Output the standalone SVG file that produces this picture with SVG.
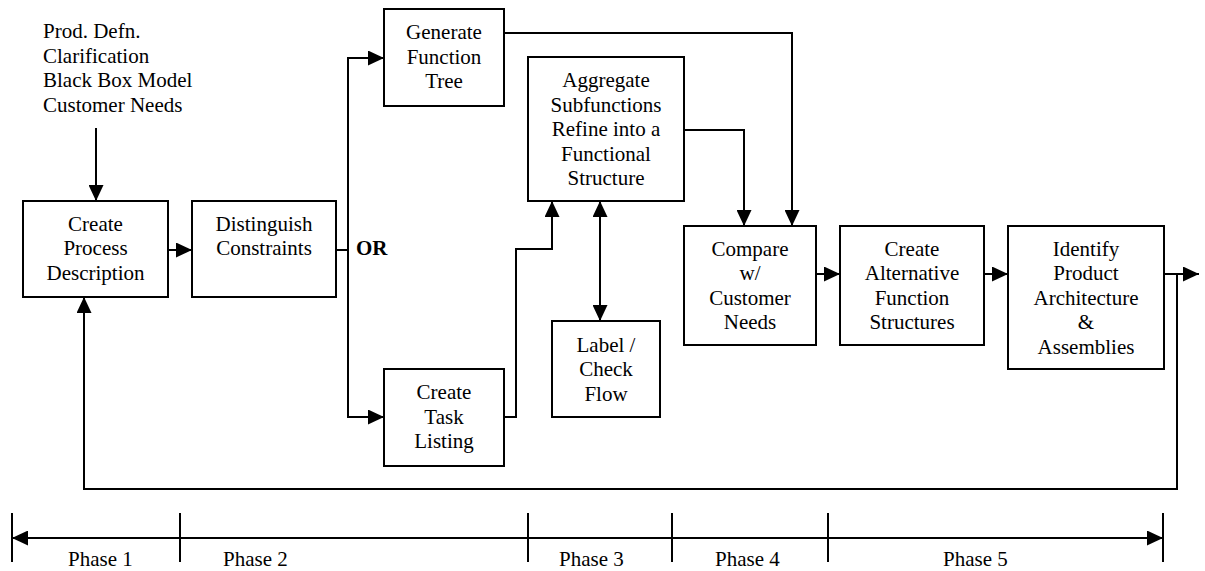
<svg xmlns="http://www.w3.org/2000/svg" width="1205" height="571" viewBox="0 0 1205 571">
  <style>
    text { font-family: "Liberation Serif", "Times New Roman", Times, "Nimbus Roman", "Nimbus Roman No9 L", FreeSerif, "Noto Serif", Tinos, "DejaVu Serif", Georgia, serif; font-size: 21px; fill: #000; }
    .c { text-anchor: middle; }
    .b { font-weight: bold; }
    .box { fill: #fff; stroke: #000; stroke-width: 2; }
    .ln { fill: none; stroke: #000; stroke-width: 2; }
    .arr { marker-end: url(#ah); }
    .arr2 { marker-start: url(#ah); marker-end: url(#ah); }
  </style>
  <defs>
    <marker id="ah" viewBox="0 0 16 15" refX="16" refY="7.5" markerWidth="16" markerHeight="15" markerUnits="userSpaceOnUse" orient="auto-start-reverse">
      <path d="M0,0 L16,7.5 L0,15 z" fill="#000"/>
    </marker>
  </defs>
  <rect width="1205" height="571" fill="#fff"/>

  <!-- inputs to the first step -->
  <g id="inputs">
    <text x="43" y="38">Prod. Defn.</text>
    <text x="43" y="62.5">Clarification</text>
    <text x="43" y="87">Black Box Model</text>
    <text x="43" y="111.5">Customer Needs</text>
  </g>

  <!-- connectors -->
  <g id="connectors">
    <path class="ln arr" d="M96,128 V201"/>
    <path class="ln arr" d="M168,250 H192"/>
    <path class="ln" d="M336,250 H348"/>
    <path class="ln arr" d="M348,250 V58 H384"/>
    <path class="ln arr" d="M348,250 V417 H384"/>
    <path class="ln arr" d="M504,417 H516 V249 H552 V201"/>
    <path class="ln arr2" d="M600,201 V321"/>
    <path class="ln arr" d="M504,33 H792 V226"/>
    <path class="ln arr" d="M684,130 H744 V226"/>
    <path class="ln arr" d="M816,274 H840"/>
    <path class="ln arr" d="M984,274 H1008"/>
    <path class="ln arr" d="M1164,274 H1199"/>
    <path class="ln arr" d="M1177,274 V489 H84 V297"/>
  </g>

  <g id="n-process">
    <rect class="box" x="23" y="201" width="145" height="96"/>
    <text class="c" x="95.5" y="230.5">Create</text>
    <text class="c" x="95.5" y="255">Process</text>
    <text class="c" x="95.5" y="279.5">Description</text>
  </g>

  <g id="n-constraints">
    <rect class="box" x="192" y="201" width="144" height="96"/>
    <text class="c" x="264" y="230.5">Distinguish</text>
    <text class="c" x="264" y="255">Constraints</text>
  </g>

  <g id="or-label">
    <text class="b" x="356" y="255">OR</text>
  </g>

  <g id="n-tree">
    <rect class="box" x="384" y="9" width="120" height="97"/>
    <text class="c" x="444" y="39">Generate</text>
    <text class="c" x="444" y="63.5">Function</text>
    <text class="c" x="444" y="88">Tree</text>
  </g>

  <g id="n-task">
    <rect class="box" x="384" y="369" width="120" height="97"/>
    <text class="c" x="444" y="399">Create</text>
    <text class="c" x="444" y="423.5">Task</text>
    <text class="c" x="444" y="448">Listing</text>
  </g>

  <g id="n-aggregate">
    <rect class="box" x="528" y="57" width="156" height="144"/>
    <text class="c" x="606" y="87">Aggregate</text>
    <text class="c" x="606" y="111.5">Subfunctions</text>
    <text class="c" x="606" y="136">Refine into a</text>
    <text class="c" x="606" y="160.5">Functional</text>
    <text class="c" x="606" y="185">Structure</text>
  </g>

  <g id="n-label">
    <rect class="box" x="552" y="321" width="108" height="96"/>
    <text class="c" x="606" y="351.5">Label /</text>
    <text class="c" x="606" y="376">Check</text>
    <text class="c" x="606" y="400.5">Flow</text>
  </g>

  <g id="n-compare">
    <rect class="box" x="684" y="226" width="132" height="119"/>
    <text class="c" x="750" y="255.5">Compare</text>
    <text class="c" x="750" y="280">w/</text>
    <text class="c" x="750" y="304.5">Customer</text>
    <text class="c" x="750" y="329">Needs</text>
  </g>

  <g id="n-alternative">
    <rect class="box" x="840" y="226" width="144" height="119"/>
    <text class="c" x="912" y="255.5">Create</text>
    <text class="c" x="912" y="280">Alternative</text>
    <text class="c" x="912" y="304.5">Function</text>
    <text class="c" x="912" y="329">Structures</text>
  </g>

  <g id="n-architecture">
    <rect class="box" x="1008" y="226" width="156" height="143"/>
    <text class="c" x="1086" y="255.5">Identify</text>
    <text class="c" x="1086" y="280">Product</text>
    <text class="c" x="1086" y="304.5">Architecture</text>
    <text class="c" x="1086" y="329">&amp;</text>
    <text class="c" x="1086" y="353.5">Assemblies</text>
  </g>

  <!-- phase timeline -->
  <g id="phases">
    <path class="ln arr2" d="M12,538 H1163"/>
    <path class="ln" d="M12,513 V562 M180,513 V562 M528,513 V562 M672,513 V562 M828,513 V562 M1163,513 V562"/>
    <text x="68" y="566">Phase 1</text>
    <text x="223" y="566">Phase 2</text>
    <text x="559" y="566">Phase 3</text>
    <text x="715" y="566">Phase 4</text>
    <text x="943" y="566">Phase 5</text>
  </g>
</svg>
